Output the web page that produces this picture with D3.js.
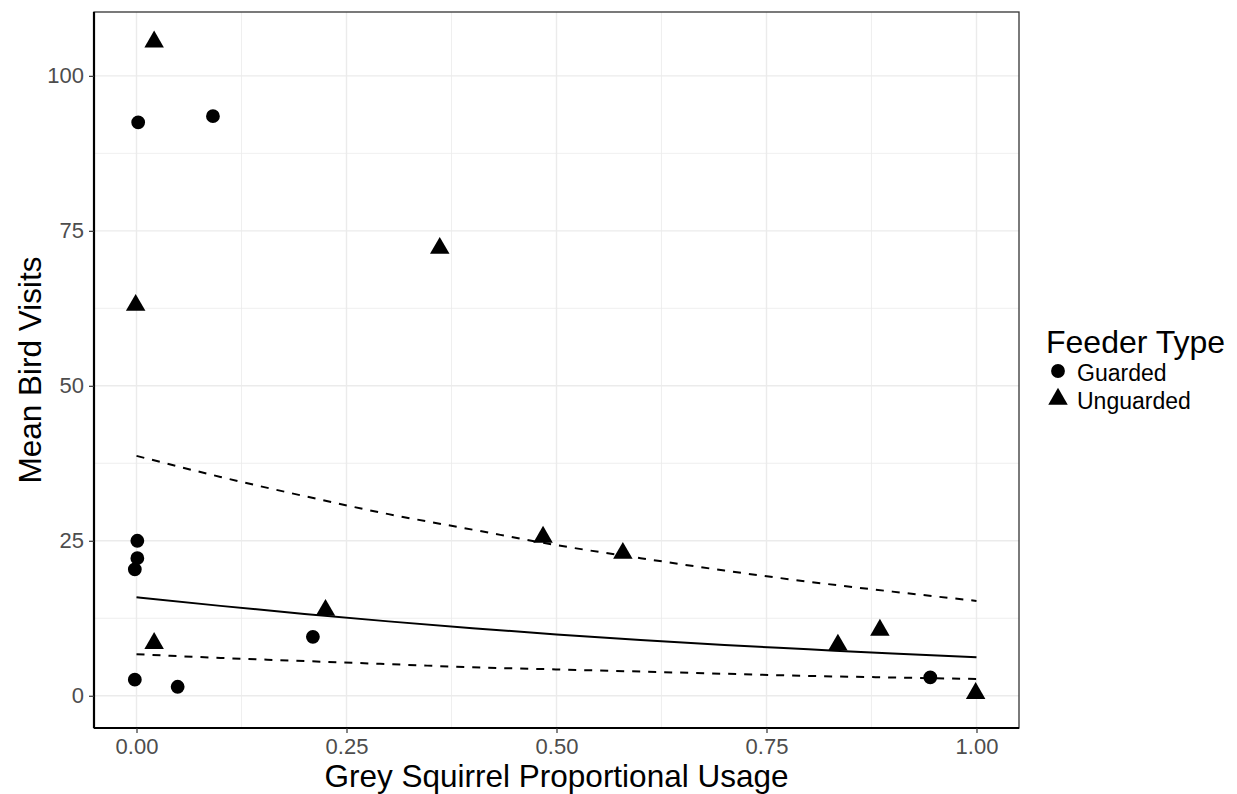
<!DOCTYPE html>
<html>
<head>
<meta charset="utf-8">
<script src="https://cdn.jsdelivr.net/npm/d3@7"></script>
<style>
  body { margin: 0; background: #fff; }
  text { font-family: "Liberation Sans", Arial, sans-serif; }
</style>
</head>
<body>
<svg id="chart" width="1237" height="794"></svg>
<script>
// ---- data ----
const guardedX = [0.002, 0.091, 0.001, 0.001, -0.002, -0.002, 0.049, 0.210, 0.945];
const guardedY = [92.5, 93.5, 25.0, 22.2, 20.4, 2.6, 1.45, 9.5, 2.97];
const unguardedX = [0.021, -0.001, 0.361, 0.484, 0.579, 0.021, 0.225, 0.835, 0.885, 0.999];
const unguardedY = [105.5, 63.0, 72.2, 25.6, 23.0, 8.45, 13.8, 8.2, 10.6, 0.4];

const fitX = [0, 0.1, 0.2, 0.3, 0.4, 0.5, 0.6, 0.7, 0.8, 0.9, 1.0];
const fitMid = [15.9, 14.5, 13.2, 12.0, 10.9, 9.9, 9.0, 8.2, 7.5, 6.8, 6.2];
const fitUpper = [38.7, 35.3, 32.2, 29.3, 26.8, 24.3, 22.2, 20.2, 18.4, 16.8, 15.3];
const fitLower = [6.7, 6.1, 5.6, 5.1, 4.6, 4.25, 3.9, 3.55, 3.2, 2.95, 2.7];

const xTicks = [0, 0.25, 0.5, 0.75, 1.0];
const xTickLabels = ["0.00", "0.25", "0.50", "0.75", "1.00"];
const yTicks = [0, 25, 50, 75, 100];
const xMinor = [0.125, 0.375, 0.625, 0.875];
const yMinor = [12.5, 37.5, 62.5, 87.5];

const xTitle = "Grey Squirrel Proportional Usage";
const yTitle = "Mean Bird Visits";
const legendTitle = "Feeder Type";
const legendLabels = ["Guarded", "Unguarded"];

// ---- layout ----
const svg = d3.select("#chart");
const P = { left: 94, right: 1019, top: 12, bottom: 728 };

const x = d3.scaleLinear().domain([-0.0506, 1.0506]).range([P.left, P.right]);
const y = d3.scaleLinear().domain([-5.2, 110.3]).range([P.bottom, P.top]);

// grid
const grid = svg.append("g");
grid.selectAll(".xm").data(xMinor).enter().append("line")
  .attr("x1", d => x(d)).attr("x2", d => x(d)).attr("y1", P.top).attr("y2", P.bottom)
  .attr("stroke", "#EBEBEB").attr("stroke-width", 0.8);
grid.selectAll(".ym").data(yMinor).enter().append("line")
  .attr("y1", d => y(d)).attr("y2", d => y(d)).attr("x1", P.left).attr("x2", P.right)
  .attr("stroke", "#EBEBEB").attr("stroke-width", 0.8);
grid.selectAll(".xM").data(xTicks).enter().append("line")
  .attr("x1", d => x(d)).attr("x2", d => x(d)).attr("y1", P.top).attr("y2", P.bottom)
  .attr("stroke", "#EBEBEB").attr("stroke-width", 1.4);
grid.selectAll(".yM").data(yTicks).enter().append("line")
  .attr("y1", d => y(d)).attr("y2", d => y(d)).attr("x1", P.left).attr("x2", P.right)
  .attr("stroke", "#EBEBEB").attr("stroke-width", 1.4);

// fitted lines
const line = d3.line().x(d => x(d[0])).y(d => y(d[1])).curve(d3.curveMonotoneX);
svg.append("path").datum(d3.zip(fitX, fitUpper)).attr("d", line)
  .attr("fill", "none").attr("stroke", "#000").attr("stroke-width", 2).attr("stroke-dasharray", "8,8");
svg.append("path").datum(d3.zip(fitX, fitLower)).attr("d", line)
  .attr("fill", "none").attr("stroke", "#000").attr("stroke-width", 2).attr("stroke-dasharray", "8,8");
svg.append("path").datum(d3.zip(fitX, fitMid)).attr("d", line)
  .attr("fill", "none").attr("stroke", "#000").attr("stroke-width", 2);

// points
const circ = d3.symbol().type(d3.symbolCircle).size(150);
const tri = d3.symbol().type(d3.symbolTriangle).size(165);
svg.append("g").selectAll("path").data(d3.zip(guardedX, guardedY)).enter().append("path")
  .attr("d", circ).attr("transform", d => `translate(${x(d[0])},${y(d[1])})`).attr("fill", "#000");
svg.append("g").selectAll("path").data(d3.zip(unguardedX, unguardedY)).enter().append("path")
  .attr("d", tri).attr("transform", d => `translate(${x(d[0])},${y(d[1])})`).attr("fill", "#000");

// panel border
svg.append("rect").attr("x", P.left).attr("y", P.top)
  .attr("width", P.right - P.left).attr("height", P.bottom - P.top)
  .attr("fill", "none").attr("stroke", "#333").attr("stroke-width", 1.3);

// axes
const xAxis = svg.append("g").attr("transform", `translate(0,${P.bottom})`)
  .call(d3.axisBottom(x).tickValues(xTicks).tickFormat((d, i) => xTickLabels[i]).tickSize(5).tickPadding(5));
const yAxis = svg.append("g").attr("transform", `translate(${P.left},0)`)
  .call(d3.axisLeft(y).tickValues(yTicks).tickSize(5).tickPadding(5));
[xAxis, yAxis].forEach(a => {
  a.select(".domain").attr("stroke", "#000").attr("stroke-width", 2.2);
  a.selectAll(".tick line").attr("stroke", "#333").attr("stroke-width", 1.2);
  a.selectAll(".tick text").attr("fill", "#4D4D4D").attr("font-size", "22px")
    .attr("font-family", "Liberation Sans, Arial, sans-serif");
});
xAxis.select(".domain").attr("d", `M${P.left},0H${P.right}`);
yAxis.select(".domain").attr("d", `M0,${P.top}V${P.bottom}`);

// titles
svg.append("text").attr("x", (P.left + P.right) / 2).attr("y", 787)
  .attr("text-anchor", "middle").attr("font-size", "31.5px").attr("fill", "#000").text(xTitle);
svg.append("text").attr("transform", `translate(41,${(P.top + P.bottom) / 2}) rotate(-90)`)
  .attr("text-anchor", "middle").attr("font-size", "31.5px").attr("fill", "#000").text(yTitle);

// legend
const lg = svg.append("g");
lg.append("text").attr("x", 1046).attr("y", 353).attr("font-size", "32px").attr("fill", "#000").text(legendTitle);
lg.append("path").attr("d", circ).attr("transform", "translate(1058,371)").attr("fill", "#000");
lg.append("path").attr("d", tri).attr("transform", "translate(1058,399)").attr("fill", "#000");
lg.append("text").attr("x", 1077).attr("y", 381).attr("font-size", "23px").attr("fill", "#000").text(legendLabels[0]);
lg.append("text").attr("x", 1077).attr("y", 409).attr("font-size", "23px").attr("fill", "#000").text(legendLabels[1]);
</script>
</body>
</html>
